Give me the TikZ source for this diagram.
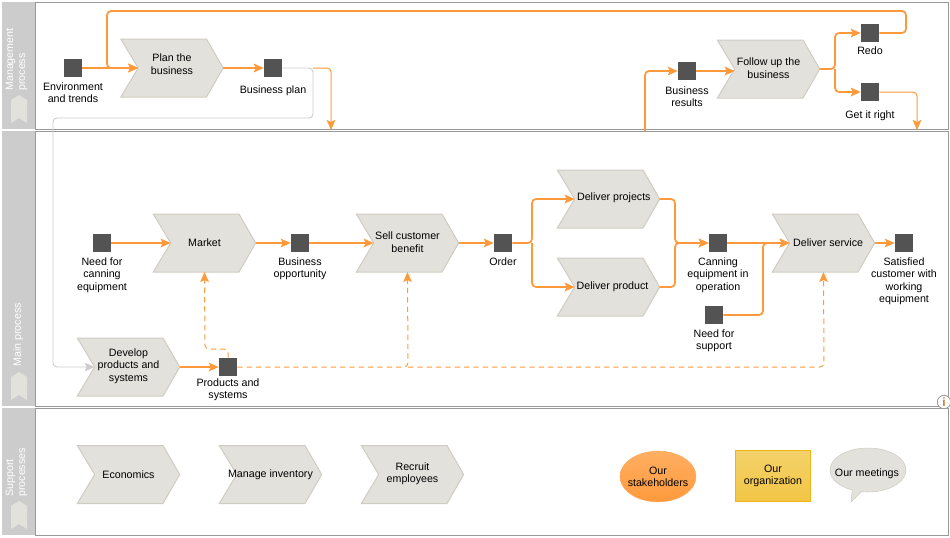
\documentclass[tikz,border=0pt]{standalone}
\usepackage{fontspec}
\setmainfont{Liberation Sans}
\usetikzlibrary{arrows.meta, positioning, shapes.callouts, shapes.geometric}
\definecolor{flowc}{HTML}{FF9A3C}
\definecolor{boxc}{HTML}{E2E1DC}
\definecolor{edgec}{HTML}{CFCCC2}
\definecolor{lanec}{HTML}{CCCCCC}
\definecolor{rulec}{HTML}{999999}
\definecolor{squarec}{HTML}{535353}
\definecolor{orgtop}{HTML}{F4D26C}
\definecolor{orgbot}{HTML}{F2C544}
\definecolor{orgedge}{HTML}{F0B414}
\makeatletter
\pgfdeclareshape{chevron}{
  \inheritsavedanchors[from=rectangle]
  \inheritanchorborder[from=rectangle]
  \inheritanchor[from=rectangle]{center}
  \inheritanchor[from=rectangle]{north}
  \inheritanchor[from=rectangle]{south}
  \inheritanchor[from=rectangle]{east}
  \inheritanchor[from=rectangle]{west}
  \inheritanchor[from=rectangle]{text}
  \anchor{notch}{\southwest \pgf@xa=\pgf@x \pgf@ya=\pgf@y \northeast \pgf@y=.5\pgf@y \advance\pgf@y by .5\pgf@ya \pgf@x=\pgf@xa \advance\pgf@x by 13pt}
  \backgroundpath{
    \southwest \edef\chxa{\the\pgf@x}\edef\chya{\the\pgf@y}
    \northeast \edef\chxb{\the\pgf@x}\edef\chyb{\the\pgf@y}
    \pgfpathmoveto{\pgfpoint{\chxa}{\chyb}}
    \pgfpathlineto{\pgfpoint{\chxb-12.5pt}{\chyb}}
    \pgfpathlineto{\pgfpoint{\chxb}{(\chya+\chyb)/2}}
    \pgfpathlineto{\pgfpoint{\chxb-12.5pt}{\chya}}
    \pgfpathlineto{\pgfpoint{\chxa}{\chya}}
    \pgfpathlineto{\pgfpoint{\chxa+13pt}{(\chya+\chyb)/2}}
    \pgfpathclose
  }
}
\makeatother
\tikzstyle{lanebar}=[fill=lanec, draw=none]
\tikzstyle{lanebox}=[draw=rulec, line width=.75pt]
\tikzstyle{lanetext}=[text=white, rotate=90, anchor=west, align=left, inner sep=0pt, font=\fontsize{8}{9}\selectfont]
\tikzstyle{marker}=[fill=boxc, draw=none]
\tikzstyle{proc}=[chevron, draw=edgec, fill=boxc, line width=.75pt, minimum width=76pt, minimum height=42.75pt, inner sep=0pt, align=center, font=\fontsize{8}{9.2}\selectfont]
\tikzstyle{thing}=[rectangle, fill=squarec, minimum size=13.5pt, inner sep=0pt]
\tikzstyle{caption}=[align=center, inner sep=0pt, font=\fontsize{8}{9.2}\selectfont, execute at begin node=\strut]
\tikzstyle{flow}=[->, flowc, line width=1.3pt, rounded corners=3pt, >={Stealth[length=7.5pt,width=6.5pt,inset=1.5pt]}]
\tikzstyle{thinflow}=[flow, line width=.75pt]
\tikzstyle{grayflow}=[flow, lanec, line width=.7pt]
\tikzstyle{dashflow}=[thinflow, dash pattern=on 4pt off 3pt]
\tikzstyle{roundbox}=[align=center, font=\fontsize{8}{9.2}\selectfont, inner sep=0pt]

\begin{document}
\begin{tikzpicture}[x=.75pt, y=-.75pt, node distance=4pt]
  \useasboundingbox (0,0) rectangle (950,537);
  % lanes
  \fill[lanebar] (2,2) rectangle (35,129);
  \fill[lanebar] (2,131) rectangle (35,406);
  \fill[lanebar] (2,408) rectangle (35,535);
  \draw[lanebox] (35,2.5) rectangle (948,129.5);
  \draw[lanebox] (35,131) rectangle (948,406.5);
  \draw[lanebox] (35,408) rectangle (948,535);
  \node[lanetext] (lanemgmt) at (16.5,91) {Management\\process};
  \node[lanetext] (lanemain) at (18,367) {Main process};
  \node[lanetext] (lanesup) at (16.5,497) {Support\\processes};
  \fill[marker] (19,95) -- (27,100) -- (27,123) -- (19,118) -- (11,123) -- (11,100) -- cycle;
  \fill[marker] (19,372) -- (27,377) -- (27,400) -- (19,395) -- (11,400) -- (11,377) -- cycle;
  \fill[marker] (19,501) -- (27,506) -- (27,529) -- (19,524) -- (11,529) -- (11,506) -- cycle;

  % management
  \node[thing] (env) at (73,68) {};
  \node[caption] (envtext) [below=of env] {Environment\\and trends};
  \node[proc, text depth=6pt] (plan) at (172,68) {Plan the\\business};
  \node[thing] (bizplan) at (273,68) {};
  \node[caption] (bizplantext) [below=5.5pt of bizplan] {Business plan};
  \node[thing] (results) at (687,71) {};
  \node[caption] (resultstext) [below=4.7pt of results] {Business\\results};
  \node[proc, text depth=1.5pt] (follow) at (768.5,69) {Follow up the\\business};
  \node[thing] (redo) at (870,33) {};
  \node[caption] (redotext) [below=2.5pt of redo] {Redo};
  \node[thing] (getright) at (870,92) {};
  \node[caption] (getrighttext) [below=6.3pt of getright] {Get it right};

  % main
  \node[thing] (need) at (102,243) {};
  \node[caption] (needtext) [below=of need] {Need for\\canning\\equipment};
  \node[proc] (market) at (204.5,243) {Market};
  \node[thing] (opportunity) at (300,243) {};
  \node[caption] (opportunitytext) [below=of opportunity] {Business\\opportunity};
  \node[proc, text depth=1.5pt] (sell) at (407.5,243) {Sell customer\\benefit};
  \node[thing] (order) at (503,243) {};
  \node[caption] (ordertext) [below=3.3pt of order] {Order};
  \node[proc, text depth=3.2pt] (dproj) at (608.5,199) {\hspace*{8pt}Deliver projects};
  \node[proc] (dprod) at (608.5,287) {\hspace*{6pt}Deliver product};
  \node[thing] (canning) at (718,243) {};
  \node[caption] (canningtext) [below=of canning] {Canning\\equipment in\\operation};
  \node[thing] (support) at (714,315) {};
  \node[caption] (supporttext) [below=of support] {Need for\\support};
  \node[proc] (service) at (823.5,243) {\hspace*{7pt}Deliver service};
  \node[thing] (satisfied) at (904,243) {};
  \node[caption] (satisfiedtext) [below=of satisfied] {Satisfied\\customer with\\working\\equipment};
  \node[proc, text depth=3.2pt] (develop) at (128.5,367) {Develop\\products and\\systems};
  \node[thing] (products) at (228,367) {};
  \node[caption] (productstext) [below=1.7pt of products] {Products and\\systems};

  % support
  \node[proc] (economics) at (128.5,474.5) {Economics};
  \node[proc] (inventory) at (270.5,474.5) {Manage inventory};
  \node[proc, text depth=3.2pt] (recruit) at (412.5,474.5) {Recruit\\employees};
  \node[ellipse, roundbox, inner xsep=-3pt, top color=flowc!80!white, bottom color=flowc, draw=flowc!85!white, minimum width=57pt, minimum height=38pt] (stakeholders) at (658,476.5) {Our\\stakeholders};
  \node[rectangle, roundbox, top color=orgtop, bottom color=orgbot, draw=orgedge, minimum width=56.5pt, minimum height=38pt, text depth=1.5pt] (organization) at (773,475.5) {Our\\organization};
  \node[ellipse callout, roundbox, fill=boxc, draw=edgec, minimum width=57pt, minimum height=33pt, callout absolute pointer={(851,502)}] (meetings) at (868,470) {};
  \node[roundbox] (meetingstext) at (867,474) {Our meetings};
  \node[circle, draw=rulec, fill=white, line width=.6pt, minimum size=10pt, inner sep=0pt, text=flowc!80!black, font=\fontsize{9}{9}\selectfont\bfseries] (info) at (944,402) {i};

  % management flows
  \coordinate (bizturn) at (313,68);
  \coordinate (lowturn) at (313,118);
  \coordinate (leftturn) at (53,118);
  \coordinate (bizdown) at (331,130);
  \coordinate (resultsup) at (645,131);
  \coordinate (followsplit) at (835,69);
  \coordinate (redoup) at (906,11);
  \coordinate (planin) at (107,68);
  \coordinate (getdown) at (917,130);
  \path[flow] (env) edge (plan.notch);
  \path[flow] (plan.east) edge (bizplan);
  \draw[grayflow] (bizplan.east) -- (bizturn) -- (lowturn) -- (leftturn) |- (develop.notch);
  \draw[thinflow] (bizturn) -| (bizdown);
  \draw[flow] (resultsup) |- (results);
  \path[flow] (results) edge (follow.notch |- results);
  \draw[flow] (follow.east) -- (followsplit) |- (redo);
  \draw[flow] (followsplit) |- (getright);
  \draw[flow] (redo.east) -| (redoup) -| (planin) -- (plan.notch);
  \draw[thinflow] (getright.east) -| (getdown);

  % main flows
  \coordinate (ordersplit) at (532,243);
  \coordinate (joinleft) at (675,243);
  \coordinate (servicejoin) at (763,243);
  \coordinate (productsup) at (228,349);
  \coordinate (marketturn) at (205,349);
  \coordinate (sellturn) at (408,367);
  \coordinate (serviceturn) at (824,367);
  \path[flow] (need) edge (market.notch);
  \path[flow] (market.east) edge (opportunity);
  \path[flow] (opportunity) edge (sell.notch);
  \path[flow] (sell.east) edge (order);
  \draw[flow] (order.east) -- (ordersplit) |- (dproj.notch);
  \draw[flow] (ordersplit) |- (dprod.notch);
  \draw[flow] (dproj.east) -| (joinleft) -- (canning);
  \draw[flow] (dprod.east) -| (joinleft) -- (canning);
  \path[flow] (canning) edge (service.notch);
  \draw[flow] (support.east) -| (servicejoin) -- (service.notch);
  \path[flow] (service.east) edge (satisfied);
  \path[flow] (develop.east) edge (products);
  \draw[dashflow] (products.north) -- (productsup) -- (marketturn) -- (market.south);
  \draw[dashflow] (products.east) -- (sellturn) -- (sell.south);
  \draw[dashflow] (sellturn) -- (serviceturn) -- (service.south);
\end{tikzpicture}
\end{document}
